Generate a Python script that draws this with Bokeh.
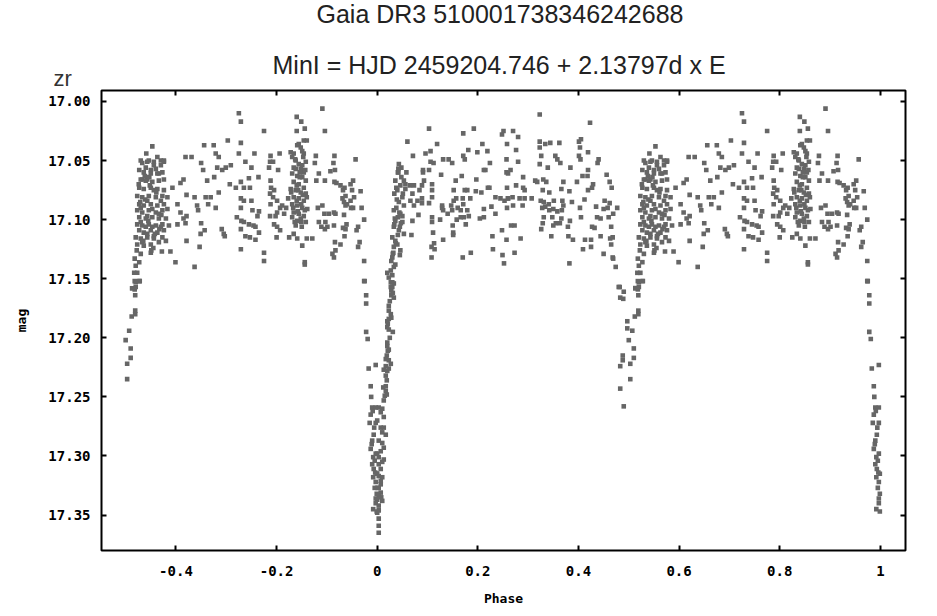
from bokeh.plotting import figure
from bokeh.models import Range1d, FixedTicker, LinearAxis, Title, PrintfTickFormatter, ColumnDataSource
from bokeh.embed import file_html
from bokeh.resources import INLINE

title_text = "Gaia DR3 510001738346242688"
subtitle_text = "MinI = HJD 2459204.746 + 2.13797d x E"
filter_text = "zr"
x_label = "Phase"
y_label = "mag"

x_ticks = [-0.4, -0.2, 0.0, 0.2, 0.4, 0.6, 0.8, 1.0]
x_tick_labels = ["-0.4", "-0.2", "0", "0.2", "0.4", "0.6", "0.8", "1"]
y_ticks = [17.00, 17.05, 17.10, 17.15, 17.20, 17.25, 17.30, 17.35]

# phase in [0, 1) ; mag
phase_out = [
0.103,0.060,0.119,0.071,0.096,0.106,0.171,0.192,0.181,0.209,0.199,0.219,0.171,0.131,0.142,0.149,0.106,0.112,0.174,0.251,
0.248,0.270,0.280,0.258,0.276,0.257,0.280,0.224,0.323,0.423,0.323,0.323,0.334,0.344,0.362,0.401,0.405,0.403,0.419,0.401,
0.404,0.354,0.358,0.364,0.326,0.323,0.440,0.438,0.384,0.339,0.419,0.456,0.408,0.418,0.215,0.212,0.091,0.091,0.103,0.058,
0.048,0.041,0.127,0.168,0.197,0.156,0.257,0.260,0.265,0.290,0.314,0.318,0.330,0.336,0.370,0.397,0.429,0.462,0.466,0.427,
0.419,0.382,0.366,0.342,0.329,0.220,0.223,0.196,0.207,0.179,0.174,0.152,0.258,0.276,0.290,0.293,0.260,0.109,0.093,0.089,
0.073,0.065,0.056,0.070,0.084,0.109,0.109,0.089,0.080,0.066,0.073,0.089,0.103,0.129,0.147,0.157,0.152,0.170,0.171,0.185,
0.212,0.235,0.245,0.253,0.260,0.269,0.283,0.293,0.307,0.325,0.331,0.328,0.334,0.341,0.351,0.350,0.342,0.358,0.368,0.370,
0.367,0.387,0.403,0.412,0.435,0.452,0.462,0.450,0.458,0.477,0.469,0.405,0.383,0.366,0.363,0.350,0.355,0.329,0.326,0.331,
0.348,0.289,0.270,0.258,0.235,0.227,0.212,0.204,0.182,0.172,0.176,0.166,0.158,0.179,0.166,0.160,0.149,0.140,0.131,0.129,
0.125,0.109,0.109,0.111,0.082,0.070,0.068,0.150,0.151,0.151,0.273,0.266,0.248,0.229,0.257,0.285,0.346,0.380,0.379,0.389,
0.413,0.425,0.425,0.409,0.427,0.432,0.444,0.463,0.468,0.465,0.450,0.468,0.469,0.474,0.382,0.252,0.249,0.273,0.230,0.186,
0.170,0.131,0.113,0.108,0.114,0.108,0.480,0.460,0.465,0.437,0.444,
]
mag_out = [
17.023,17.034,17.036,17.046,17.044,17.042,17.027,17.023,17.041,17.036,17.043,17.042,17.046,17.049,17.049,17.052,17.051,17.052,17.049,17.025,
17.028,17.025,17.030,17.036,17.041,17.049,17.051,17.052,17.011,17.018,17.034,17.039,17.036,17.035,17.035,17.034,17.032,17.039,17.043,17.046,
17.049,17.046,17.049,17.052,17.046,17.053,17.049,17.052,17.056,17.056,17.058,17.062,17.063,17.063,17.058,17.058,17.058,17.060,17.058,17.060,
17.056,17.060,17.062,17.063,17.066,17.067,17.060,17.061,17.058,17.064,17.067,17.068,17.066,17.068,17.068,17.068,17.070,17.068,17.073,17.073,
17.075,17.076,17.074,17.077,17.075,17.073,17.073,17.076,17.077,17.075,17.075,17.075,17.073,17.071,17.073,17.075,17.082,17.070,17.067,17.071,
17.071,17.071,17.074,17.078,17.075,17.075,17.081,17.082,17.084,17.084,17.088,17.086,17.086,17.088,17.088,17.082,17.084,17.082,17.087,17.082,
17.091,17.081,17.082,17.084,17.082,17.081,17.082,17.082,17.082,17.084,17.085,17.090,17.089,17.087,17.084,17.091,17.092,17.093,17.084,17.088,
17.092,17.085,17.090,17.083,17.089,17.084,17.086,17.091,17.090,17.090,17.095,17.098,17.101,17.099,17.103,17.105,17.103,17.103,17.108,17.098,
17.098,17.088,17.088,17.090,17.095,17.089,17.098,17.099,17.097,17.098,17.104,17.098,17.100,17.092,17.092,17.090,17.092,17.095,17.092,17.090,
17.100,17.098,17.102,17.111,17.096,17.101,17.113,17.105,17.111,17.113,17.105,17.105,17.109,17.114,17.117,17.116,17.114,17.114,17.106,17.117,
17.117,17.117,17.123,17.125,17.106,17.107,17.114,17.116,17.115,17.121,17.129,17.132,17.133,17.140,17.137,17.137,17.130,17.128,17.125,17.128,
17.132,17.117,17.120,17.123,17.125,17.132,17.157,17.098,17.106,17.098,17.099,
]

# rise out of primary eclipse (phase 0.00 - 0.06)
phase_rise = [
0.043,0.042,0.036,0.046,0.040,0.034,0.050,0.043,0.038,0.033,0.046,0.041,0.036,0.050,0.033,0.043,0.030,0.040,0.033,0.046,
0.030,0.036,0.027,0.023,0.030,0.027,0.053,0.056,0.038,0.053,0.050,0.034,0.045,0.053,0.036,0.032,0.045,0.028,0.033,0.020,
0.030,
0.027,0.030,0.031,0.028,0.025,0.023,0.023,0.027,0.023,0.020,0.020,0.023,0.031,0.025,0.020,0.020,0.021,0.019,0.023,0.027,
0.017,0.013,0.020,0.017,0.019,0.017,0.017,0.015,0.013,0.003,0.010,0.013,0.000,0.007,0.013,0.017,0.003,0.010,0.007,0.000,
0.013,0.003,0.007,0.003,0.010,0.007,0.000,0.007,0.003,0.000,0.010,0.003,0.003,0.000,0.003,0.003,0.003,
0.033,0.028,0.033,0.021,0.028,0.023,0.017,0.023,0.012,0.019,0.007,0.010,0.013,0.010,0.003,0.000,0.007,0.003,0.008,
0.048,0.039,0.044,0.035,0.051,0.041,0.037,0.047,0.031,0.042,
]
mag_rise = [
17.053,17.060,17.067,17.071,17.075,17.078,17.081,17.085,17.090,17.092,17.095,17.098,17.101,17.102,17.106,17.109,17.115,17.121,17.123,17.126,
17.132,17.138,17.143,17.149,17.153,17.157,17.067,17.070,17.073,17.088,17.097,17.104,17.106,17.112,17.118,17.128,17.130,17.135,17.140,17.145,
17.147,
17.153,17.157,17.162,17.164,17.169,17.173,17.177,17.180,17.184,17.186,17.191,17.193,17.195,17.200,17.204,17.207,17.211,17.215,17.219,17.222,
17.224,17.227,17.228,17.232,17.236,17.241,17.245,17.249,17.253,17.259,17.260,17.267,17.270,17.276,17.276,17.282,17.287,17.289,17.296,17.298,
17.303,17.307,17.311,17.317,17.318,17.324,17.327,17.331,17.334,17.337,17.338,17.342,17.346,17.348,17.353,17.359,17.365,
17.154,17.160,17.166,17.188,17.183,17.210,17.218,17.226,17.242,17.248,17.263,17.280,17.293,17.305,17.301,17.315,17.321,17.327,17.335,
17.064,17.083,17.094,17.099,17.078,17.113,17.120,17.103,17.129,17.057,
]

# secondary eclipse region (phase 0.48 - 0.53) and ingress of primary (0.975 - 1.0)
phase_ecl = [
0.482,0.490,0.483,0.489,0.513,0.518,0.519,0.520,0.528,0.519,0.519,0.512,0.497,0.497,0.507,0.500,0.510,0.488,0.488,0.510,
0.483,0.503,0.503,0.483,0.490,
0.975,0.978,0.978,0.978,0.981,0.997,0.983,0.987,0.988,0.990,0.997,0.987,0.985,0.997,0.993,0.990,0.987,0.997,0.992,0.990,
0.993,0.999,0.992,0.997,0.995,0.999,0.997,0.997,0.992,0.999,0.991,0.994,0.989,0.995,0.996,
]
mag_ecl = [
17.157,17.161,17.166,17.167,17.158,17.159,17.164,17.153,17.152,17.177,17.180,17.182,17.186,17.192,17.194,17.202,17.209,17.215,17.219,17.217,
17.224,17.222,17.235,17.243,17.258,
17.152,17.164,17.171,17.195,17.201,17.223,17.226,17.241,17.250,17.259,17.259,17.265,17.272,17.272,17.282,17.287,17.294,17.298,17.301,17.307,
17.311,17.315,17.318,17.322,17.327,17.332,17.336,17.340,17.345,17.347,17.262,17.276,17.290,17.304,17.314,
]

# second half of the cycle (phase 0.51 - 0.98)
phase_in = [
0.553,0.541,0.533,0.546,0.556,0.570,0.576,0.550,0.560,0.533,0.543,0.566,0.593,0.603,0.615,0.609,0.621,0.637,0.619,0.631,
0.656,0.675,0.650,0.654,0.679,0.685,0.682,0.692,0.699,0.703,0.709,0.725,0.729,0.725,0.729,0.738,0.756,0.750,0.775,0.787,
0.793,0.785,0.788,0.806,0.803,0.764,0.745,0.729,0.719,0.735,0.747,0.707,0.676,0.662,0.685,0.659,0.669,0.664,0.679,0.642,
0.644,0.621,0.615,0.609,0.619,0.603,0.650,0.657,0.649,0.647,0.637,0.599,0.621,0.589,0.572,0.550,0.691,0.695,0.697,0.729,
0.729,0.735,0.750,0.752,0.765,0.762,0.721,0.730,0.735,0.745,0.754,0.758,0.765,0.729,0.738,0.747,0.758,0.775,0.775,0.729,
0.788,0.789,0.795,0.787,0.793,0.788,0.801,0.807,0.801,0.787,0.798,0.811,0.819,0.815,0.823,0.795,0.801,0.807,0.800,0.825,
0.834,0.841,0.851,0.856,0.856,0.860,0.871,0.878,0.876,0.884,0.896,0.879,0.891,0.882,0.895,0.897,0.884,0.889,0.901,0.896,
0.914,0.904,0.917,0.914,0.916,0.927,0.911,0.914,0.917,0.915,0.913,0.907,0.916,0.915,0.919,0.927,0.935,0.932,0.937,0.931,
0.952,0.947,0.950,0.954,0.947,0.934,0.940,0.937,0.948,0.952,0.969,0.967,0.934,0.939,0.932,0.937,0.935,0.962,0.959,0.965,
0.962,0.974,0.974,0.974,0.957,0.840,0.849,0.856,0.840,0.896,0.891,0.844,0.854,0.860,
0.841,0.848,0.851,0.854,0.831,0.838,0.844,0.858,0.834,0.848,0.854,0.831,0.841,0.851,0.858,0.834,0.844,0.854,0.828,0.838,
0.848,0.858,0.834,0.844,0.854,0.831,0.841,0.851,0.861,0.834,0.844,0.854,0.831,0.841,0.849,0.838,0.828,0.834,0.853,0.846,
0.840,0.849,0.833,0.856,0.838,0.851,0.843,0.860,0.840,0.848,0.858,
0.530,0.543,0.556,0.570,0.576,0.527,0.536,0.550,0.563,0.573,0.530,0.540,0.553,0.566,0.576,0.527,0.536,0.550,0.563,0.576,
0.523,0.533,0.546,0.560,0.573,0.583,0.527,0.536,0.550,0.563,0.576,0.523,0.533,0.546,0.560,0.573,0.583,0.527,0.540,0.553,
0.566,0.580,0.523,0.533,0.546,0.560,0.573,0.586,0.527,0.536,0.550,0.563,0.576,0.520,0.530,0.543,0.556,0.573,0.523,0.536,
0.550,0.566,0.580,0.522,0.530,0.518,0.527,0.520,0.517,0.523,0.518,0.527,0.513,0.520,
0.540,0.556,0.543,0.570,0.530,0.553,0.543,0.566,0.530,0.553,0.540,0.570,0.543,0.556,0.533,
0.538,0.548,0.561,0.529,0.571,0.545,0.558,0.535,0.567,0.551,0.526,0.563,0.547,0.539,0.555,
0.837,0.846,0.852,0.842,0.829,0.857,0.836,0.850,
]
mag_in = [
17.038,17.044,17.052,17.050,17.051,17.050,17.050,17.058,17.057,17.066,17.066,17.061,17.073,17.087,17.066,17.069,17.079,17.081,17.047,17.047,
17.037,17.037,17.052,17.058,17.044,17.047,17.056,17.058,17.056,17.033,17.054,17.010,17.017,17.044,17.035,17.051,17.044,17.056,17.025,17.051,
17.051,17.056,17.046,17.044,17.058,17.064,17.065,17.068,17.073,17.073,17.073,17.070,17.064,17.067,17.077,17.081,17.081,17.087,17.090,17.088,
17.092,17.097,17.099,17.094,17.103,17.104,17.103,17.109,17.112,17.123,17.140,17.136,17.118,17.127,17.127,17.128,17.108,17.112,17.114,17.082,
17.090,17.084,17.084,17.092,17.093,17.097,17.098,17.101,17.102,17.104,17.105,17.106,17.111,17.108,17.114,17.115,17.117,17.128,17.135,17.125,
17.067,17.073,17.075,17.078,17.081,17.087,17.084,17.090,17.094,17.097,17.097,17.088,17.090,17.095,17.082,17.104,17.106,17.109,17.115,17.115,
17.112,17.116,17.122,17.136,17.138,17.116,17.116,17.046,17.052,17.061,17.067,17.067,17.088,17.090,17.095,17.102,17.102,17.106,17.106,17.108,
17.094,17.095,17.095,17.105,17.119,17.121,17.129,17.132,17.126,17.046,17.052,17.059,17.058,17.068,17.069,17.071,17.073,17.075,17.080,17.082,
17.067,17.070,17.075,17.081,17.084,17.085,17.087,17.088,17.090,17.090,17.090,17.076,17.096,17.104,17.107,17.108,17.114,17.106,17.109,17.119,
17.123,17.135,17.152,17.100,17.049,17.013,17.017,17.023,17.025,17.025,17.006,17.036,17.033,17.033,
17.037,17.039,17.042,17.044,17.047,17.050,17.053,17.051,17.056,17.057,17.060,17.061,17.063,17.064,17.067,17.068,17.070,17.073,17.074,17.075,
17.077,17.078,17.081,17.082,17.084,17.087,17.088,17.090,17.091,17.094,17.095,17.097,17.098,17.101,17.102,17.105,17.043,17.044,17.047,17.060,
17.071,17.087,17.090,17.092,17.057,17.054,17.075,17.081,17.084,17.099,17.102,
17.050,17.051,17.054,17.054,17.051,17.058,17.060,17.061,17.061,17.060,17.066,17.067,17.068,17.067,17.066,17.073,17.074,17.073,17.074,17.075,
17.080,17.081,17.080,17.081,17.080,17.081,17.087,17.088,17.087,17.088,17.087,17.092,17.094,17.092,17.094,17.092,17.091,17.098,17.099,17.098,
17.099,17.099,17.104,17.105,17.104,17.105,17.104,17.105,17.109,17.111,17.109,17.111,17.109,17.115,17.116,17.115,17.116,17.115,17.121,17.122,
17.121,17.119,17.118,17.126,17.129,17.133,17.136,17.139,17.145,17.145,17.152,17.152,17.158,17.157,
17.056,17.075,17.084,17.084,17.090,17.091,17.097,17.095,17.102,17.106,17.106,17.106,17.112,17.114,17.119,
17.063,17.071,17.077,17.085,17.096,17.101,17.112,17.118,17.108,17.126,17.070,17.047,17.064,17.083,17.124,
17.049,17.064,17.079,17.093,17.077,17.058,17.102,17.106,
]

phase = phase_out + phase_rise + phase_ecl + phase_in
mag = mag_out + mag_rise + mag_ecl + mag_in

# fold: phases >= 0.5 are also shown one cycle earlier
plot_x, plot_y = [], []
for ph, m in zip(phase, mag):
    plot_x.append(ph)
    plot_y.append(m)
    if ph >= 0.5:
        plot_x.append(ph - 1.0)
        plot_y.append(m)

src = ColumnDataSource(dict(x=plot_x, y=plot_y))

p = figure(width=937, height=616,
           x_range=Range1d(-0.548, 1.050), y_range=Range1d(17.380, 16.9907),
           output_backend="svg", toolbar_location=None,
           min_border_left=101, min_border_right=32, min_border_top=90, min_border_bottom=66)
p.background_fill_color = "white"
p.border_fill_color = "white"
p.grid.visible = False
p.outline_line_color = "black"
p.outline_line_width = 2

p.scatter("x", "y", source=src, marker="square", size=4.6,
          fill_color="#666666", line_color=None)

tick_font = "DejaVu Sans Mono"

p.xaxis.ticker = FixedTicker(ticks=x_ticks)
p.xaxis.major_label_overrides = {t: l for t, l in zip(x_ticks, x_tick_labels)}
p.yaxis.ticker = FixedTicker(ticks=y_ticks)
p.yaxis.formatter = PrintfTickFormatter(format="%.2f")

for ax in (p.xaxis[0], p.yaxis[0]):
    ax.axis_line_color = None
    ax.major_tick_in = 5
    ax.major_tick_out = 0
    ax.major_tick_line_width = 2
    ax.major_tick_line_color = "black"
    ax.minor_tick_line_color = None
    ax.major_label_text_font = tick_font
    ax.major_label_text_font_style = "bold"
    ax.major_label_text_font_size = "14px"
    ax.major_label_text_color = "black"
    ax.axis_label_text_font = tick_font
    ax.axis_label_text_font_style = "bold"
    ax.axis_label_text_font_size = "13px"
    ax.axis_label_text_color = "black"

p.xaxis.major_label_standoff = 15
p.xaxis.axis_label = x_label
p.xaxis.axis_label_standoff = 12
p.yaxis.major_label_standoff = 11
p.yaxis.axis_label = y_label
p.yaxis.axis_label_standoff = 16

top_ax = LinearAxis(ticker=FixedTicker(ticks=x_ticks), axis_line_color=None,
                    major_tick_in=5, major_tick_out=0, major_tick_line_width=2,
                    minor_tick_line_color=None, major_label_text_font_size="1px",
                    major_label_text_color=None, major_label_standoff=0)
right_ax = LinearAxis(ticker=FixedTicker(ticks=y_ticks), axis_line_color=None,
                      major_tick_in=5, major_tick_out=0, major_tick_line_width=2,
                      minor_tick_line_color=None, major_label_text_font_size="1px",
                      major_label_text_color=None, major_label_standoff=0)
p.add_layout(top_ax, "above")
p.add_layout(right_ax, "right")

zr_title = Title(text=filter_text, align="left", offset=-48, standoff=0,
                 text_font="Liberation Sans", text_font_size="22px",
                 text_font_style="normal", text_color="#333333")
sub_title = Title(text=subtitle_text, align="left", offset=171, standoff=-30,
                  text_font="Liberation Sans", text_font_size="25px",
                  text_font_style="normal", text_color="#222222")
# blank band between subtitle and title: a single white tick at the far
# right edge (where the band is empty) reserves the vertical space
spacer = LinearAxis(ticker=FixedTicker(ticks=[1.04]), axis_line_color=None,
                    major_tick_in=0, major_tick_out=44, major_tick_line_color="white",
                    major_tick_line_width=1,
                    minor_tick_line_color=None, major_label_text_font_size="1px",
                    major_label_text_color=None, major_label_standoff=0)
main_title = Title(text=title_text, align="left", offset=215, standoff=-16,
                   text_font="Liberation Sans", text_font_size="25px",
                   text_font_style="normal", text_color="#222222")
p.add_layout(zr_title, "above")
p.add_layout(sub_title, "above")
p.add_layout(spacer, "above")
p.add_layout(main_title, "above")

open("out.html", "w").write(file_html(p, INLINE))
